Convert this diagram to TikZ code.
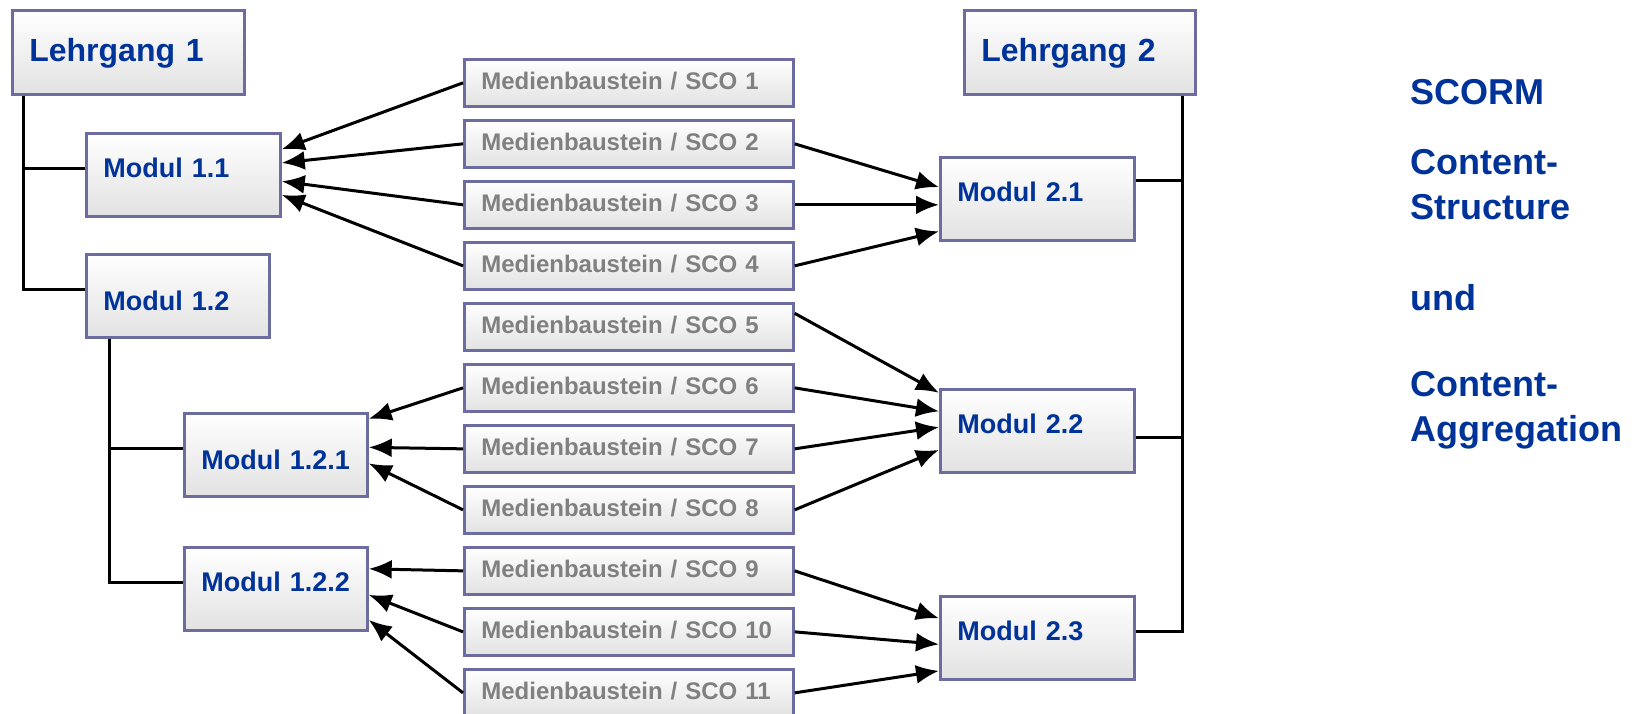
\documentclass[tikz,border=0pt]{standalone}
\usepackage{fontspec}
\setmainfont{Liberation Sans}
\usetikzlibrary{arrows.meta}

\definecolor{rahmen}{RGB}{108,108,160}
\definecolor{schrift}{RGB}{0,51,153}
\definecolor{grau}{RGB}{128,128,128}
\definecolor{unten}{RGB}{226,226,226}

\tikzset{
  kasten/.style={draw=rahmen, line width=2.7pt, top color=white, bottom color=unten,
    anchor=north west, inner xsep=17pt, inner ysep=0pt, align=left},
  lehrgang/.style={kasten, font=\fontsize{32}{38}\selectfont\bfseries, text=schrift,
    text height=23pt, text depth=5pt, minimum height=84pt, text width=198pt},
  modul/.style={kasten, font=\fontsize{27}{32}\selectfont\bfseries, text=schrift,
    text height=19.3pt, text depth=14pt, minimum height=83pt, text width=160pt},
  tiefer/.style={text depth=0pt, text height=29.3pt},
  sco/.style={kasten, font=\fontsize{24}{29}\selectfont\bfseries, text=grau,
    text height=17.2pt, text depth=4pt, minimum height=47pt, text width=295pt},
  info/.style={font=\fontsize{36}{45}\selectfont\bfseries, text=schrift, align=left, inner sep=0pt},
  baum/.style={line width=3pt, black},
  pfeil/.style={line width=3pt, black, -{Latex[length=23pt,width=19pt]}}
}

\begin{document}
\begin{tikzpicture}[x=1pt,y=-1pt]
\useasboundingbox (0,0) rectangle (1640,714);

% Lehrgang 1
\node[lehrgang] (L1) at (11,9) {Lehrgang 1};
\node[modul] (M11) at (85,132) {Modul 1.1};
\node[modul, tiefer, text width=149pt] (M12) at (85,253) {Modul 1.2};
\node[modul, tiefer, text width=149pt] (M121) at (183,412) {Modul 1.2.1};
\node[modul, text width=149pt] (M122) at (183,546) {Modul 1.2.2};

% Lehrgang 2
\node[lehrgang, text width=197pt] (L2) at (963,9) {Lehrgang 2};
\node[modul] (M21) at (939,156) {Modul 2.1};
\node[modul] (M22) at (939,388) {Modul 2.2};
\node[modul] (M23) at (939,595) {Modul 2.3};

% Medienbausteine
\foreach \i in {1,...,11}
  \node[sco] (S\i) at (463,{58+61*(\i-1)}) {Medienbaustein / SCO \i};

% Baumstruktur
\coordinate (T1) at (23,0);
\coordinate (T2) at (109,0);
\coordinate (T3) at (1182,0);
\draw[baum] (L1.south -| T1) |- ([yshift=6.5pt]M11.west);
\draw[baum] (L1.south -| T1) |- ([yshift=6pt]M12.west);
\draw[baum] (M12.south -| T2) |- ([yshift=6pt]M121.west);
\draw[baum] (M12.south -| T2) |- ([yshift=6pt]M122.west);
\draw[baum] (L2.south -| T3) |- ([yshift=6pt]M23.east);
\coordinate (b21) at ([yshift=18.5pt]M21.east);
\coordinate (b22) at ([yshift=-6.5pt]M22.east);
\draw[baum] (b21) -- (b21 -| T3);
\draw[baum] (b22) -- (b22 -| T3);

% Zuordnung links
\foreach \s/\m/\d in {1/M11/25.5, 2/M11/12, 3/M11/-6.5, 4/M11/-20,
    6/M121/36, 7/M121/7.5, 8/M121/-8.5, 9/M122/20, 10/M122/-6, 11/M122/-31}
  \draw[pfeil] (S\s.west) -- ([yshift=\d pt]\m.east);

% Zuordnung rechts
\foreach \s/\m/\d in {2/M21/11.7, 3/M21/-6, 4/M21/-32.5,
    6/M22/19.5, 7/M22/3.7, 8/M22/-19, 9/M23/19.5, 10/M23/-6.5, 11/M23/-33}
  \draw[pfeil] (S\s.east) -- ([yshift=\d pt]\m.west);
\draw[pfeil] ([yshift=13.5pt]S5.east) -- ([yshift=38pt]M22.west);

% Beschriftung
\node[info, anchor=base west] (scorm) at (1410,105) {SCORM};
\node[info, anchor=north west] (cs) at (1410,149) {Content-\\Structure};
\node[info, anchor=base west] (und) at (1410,310) {und};
\node[info, anchor=north west] (ca) at (1410,371) {Content-\\Aggregation};
\end{tikzpicture}
\end{document}
